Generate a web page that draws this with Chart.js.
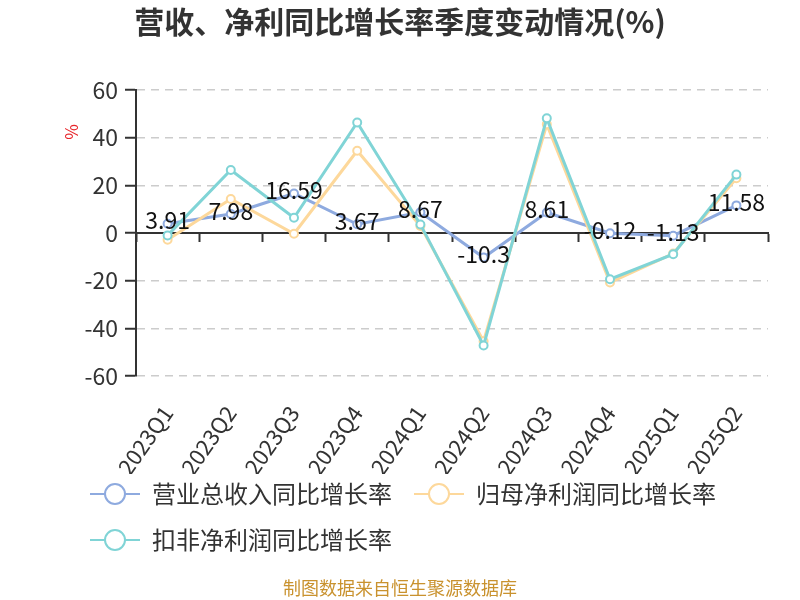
<!DOCTYPE html>
<html>
<head>
<meta charset="utf-8">
<script src="https://cdn.jsdelivr.net/npm/chart.js@4/dist/chart.umd.min.js"></script>
<style>
  html, body { margin: 0; padding: 0; background: #fff; }
  #wrap { width: 800px; height: 600px; }
</style>
</head>
<body>
<div id="wrap"><canvas id="growthChart"></canvas></div>
<script>
const quarters = ['2023Q1', '2023Q2', '2023Q3', '2023Q4', '2024Q1', '2024Q2', '2024Q3', '2024Q4', '2025Q1', '2025Q2'];
const revenueGrowth = [3.91, 7.98, 16.59, 3.67, 8.67, -10.3, 8.61, -0.12, -1.13, 11.58];
const parentProfitGrowth = [-2.8, 14.3, -0.3, 34.5, 2.9, -45.4, 45.6, -20.8, -8.6, 23.0];
const deductedProfitGrowth = [-1.0, 26.4, 6.4, 46.4, 3.6, -47.2, 48.1, -19.4, -8.9, 24.5];
const seriesNames = ['营业总收入同比增长率', '归母净利润同比增长率', '扣非净利润同比增长率'];
const seriesColors = ['#8eaadf', '#fdd89b', '#80d4d6'];

const FONT = "'Noto Sans CJK SC', 'Noto Sans', sans-serif";
const LEGEND_SHIFT = 14; // legend sits over the bottom of the rotated labels

// legend icon: line with hollow circle in the middle
function legendIcon(color) {
    const c = document.createElement('canvas');
    c.width = 50;
    c.height = 24;
    const g = c.getContext('2d');
    g.strokeStyle = color;
    g.lineWidth = 2;
    g.beginPath();
    g.moveTo(0, 12);
    g.lineTo(15, 12);
    g.moveTo(35, 12);
    g.lineTo(50, 12);
    g.stroke();
    g.beginPath();
    g.arc(25, 12, 10, 0, Math.PI * 2);
    g.fillStyle = '#fff';
    g.fill();
    g.stroke();
    return c;
}
const icons = seriesColors.map(legendIcon);

// value labels on the revenue series, plus the "%" unit and the source note
const extras = {
    id: 'extras',
    afterLayout(chart) {
        if (chart.titleBlock) {
            chart.titleBlock.left = 0;
            chart.titleBlock.right = chart.width;
        }
        if (chart.legend) {
            chart.legend.top -= LEGEND_SHIFT;
            chart.legend.bottom -= LEGEND_SHIFT;
        }
    },
    afterDatasetsDraw(chart) {
        const ctx = chart.ctx;
        const meta = chart.getDatasetMeta(0);
        ctx.save();
        ctx.font = '23px ' + FONT;
        ctx.fillStyle = '#111';
        ctx.textAlign = 'center';
        ctx.textBaseline = 'middle';
        meta.data.forEach(function(pt, i) {
            ctx.fillText(String(revenueGrowth[i]), pt.x, pt.y - 3);
        });
        ctx.restore();
    },
    afterDraw(chart) {
        const ctx = chart.ctx;
        const area = chart.chartArea;
        ctx.save();
        ctx.font = '17px ' + FONT;
        ctx.fillStyle = '#e8262b';
        ctx.textAlign = 'center';
        ctx.textBaseline = 'middle';
        ctx.translate(area.left - 64, area.top + 42);
        ctx.rotate(-Math.PI / 2);
        ctx.fillText('%', 0, 0);
        ctx.restore();

        ctx.save();
        ctx.font = '18px ' + FONT;
        ctx.fillStyle = '#c9922e';
        ctx.textAlign = 'center';
        ctx.textBaseline = 'middle';
        ctx.fillText('制图数据来自恒生聚源数据库', chart.width / 2, 588);
        ctx.restore();
    }
};

function lineSet(label, data, color, order) {
    return {
        label: label,
        data: data,
        borderColor: color,
        backgroundColor: '#fff',
        borderWidth: 3,
        pointRadius: 4,
        pointBorderWidth: 2,
        pointBackgroundColor: '#fff',
        pointBorderColor: color,
        tension: 0,
        order: order
    };
}

new Chart(document.getElementById('growthChart').getContext('2d'), {
    type: 'line',
    data: {
        labels: quarters,
        datasets: [
            lineSet(seriesNames[0], revenueGrowth, seriesColors[0], 3),
            lineSet(seriesNames[1], parentProfitGrowth, seriesColors[1], 2),
            lineSet(seriesNames[2], deductedProfitGrowth, seriesColors[2], 1)
        ]
    },
    options: {
        responsive: true,
        maintainAspectRatio: false,
        animation: false,
        layout: { padding: { left: 68, right: 32, top: 0, bottom: 24 } },
        plugins: {
            title: {
                display: true,
                text: '营收、净利同比增长率季度变动情况(%)',
                color: '#333',
                font: { family: FONT, size: 30, weight: 'bold' },
                padding: { top: 4, bottom: 50 }
            },
            legend: {
                position: 'bottom',
                align: 'start',
                labels: {
                    usePointStyle: true,
                    pointStyleWidth: 50,
                    padding: 22,
                    color: '#333',
                    font: { family: FONT, size: 24 },
                    sort: function(a, b) { return a.datasetIndex - b.datasetIndex; },
                    generateLabels: function(chart) {
                        return chart.data.datasets.map(function(ds, i) {
                            return {
                                text: ds.label,
                                pointStyle: icons[i],
                                fillStyle: '#fff',
                                strokeStyle: seriesColors[i],
                                lineWidth: 0,
                                fontColor: '#333',
                                hidden: !chart.isDatasetVisible(i),
                                datasetIndex: i
                            };
                        });
                    }
                }
            },
            tooltip: { enabled: false }
        },
        scales: {
            x: {
                offset: true,
                grid: { display: false },
                border: { display: false },
                ticks: {
                    autoSkip: false,
                    minRotation: 55,
                    maxRotation: 55,
                    padding: 17,
                    color: '#333',
                    font: { family: FONT, size: 22 }
                },
                afterFit: function(scale) { scale.height = 98; }
            },
            xZero: {
                type: 'category',
                axis: 'x',
                position: { y: 0 },
                offset: true,
                ticks: { display: false },
                grid: {
                    offset: true,
                    drawOnChartArea: false,
                    drawTicks: true,
                    tickLength: 8,
                    tickWidth: 2,
                    tickColor: '#333'
                },
                border: { display: true, color: '#333', width: 2 }
            },
            y: {
                min: -60,
                max: 60,
                ticks: {
                    stepSize: 20,
                    padding: 7,
                    color: '#333',
                    font: { family: FONT, size: 23 }
                },
                grid: {
                    color: '#cccccc',
                    lineWidth: 1.5,
                    tickLength: 11,
                    tickWidth: 2,
                    tickColor: '#333'
                },
                border: { display: true, color: '#333', width: 2, dash: [8, 6] },
                afterFit: function(scale) { scale.width = 68; }
            }
        }
    },
    plugins: [extras]
});
</script>
</body>
</html>
